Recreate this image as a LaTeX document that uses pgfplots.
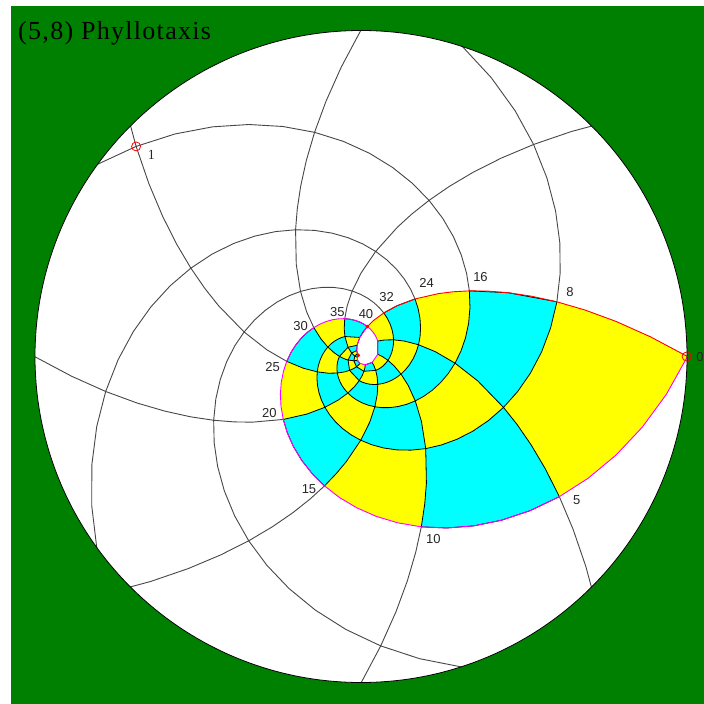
\documentclass[border=0pt]{standalone}
\usepackage{fontspec}
\setmainfont{Liberation Serif}
\newfontfamily\labfont{Liberation Sans}
\newfontfamily\titlefont[LetterSpace=5]{Liberation Serif}
\usepackage{pgfplots}
\pgfplotsset{compat=1.18}
\usepgfplotslibrary{polar}
\definecolor{bggreen}{RGB}{0,128,0}
\definecolor{cyel}{RGB}{255,255,0}
\definecolor{ccyan}{RGB}{0,255,255}
\definecolor{cmag}{RGB}{255,0,255}
\definecolor{cred}{RGB}{255,0,0}
\begin{document}
\begin{tikzpicture}[x=1pt,y=1pt]
\fill[white] (-361,-347.5) rectangle (343,356.5);
\fill[bggreen] (-350,-347.5) rectangle (343,350.5);
\fill[white] (0,0) circle[radius=326];
\begin{polaraxis}[at={(0,0)}, anchor=center, width=652pt, height=652pt, scale only axis,
  xmin=0, xmax=360, ymin=0, ymax=326, hide axis, clip=true, unbounded coords=jump]
% yellow: inside L0
\addplot[draw=none, fill=cyel] coordinates {
(0,326.5) (-7.05,307.75) (-14.1,290.07) (-21.15,273.41) (-28.2,257.70) (-35.25,242.90) (-42.3,228.95) (-49.35,215.80) (-56.4,203.40) (-63.45,191.72) (-70.5,180.71) (-77.55,170.33) (-84.6,160.54) (-91.65,151.32) (-98.7,142.63) (-105.75,134.44) (-112.8,126.71) (-119.85,119.44) (-126.9,112.58) (-133.95,106.11) (-141,100.01) (-148.05,94.27) (-155.1,88.86) (-162.15,83.75) (-169.2,78.94) (-176.25,74.41) (-183.3,70.13) (-190.35,66.10) (-197.4,62.30) (-204.45,58.73) (-211.5,55.36) (-218.55,52.17) (-225.6,49.18) (-232.65,46.36) (-239.7,43.69) (-246.75,41.18) (-253.8,38.81) (-260.85,36.59) (-267.9,34.49) (-274.95,32.50) (-282,30.64)
(70.2,38.81) (62.4,49.18) (54.6,62.30) (46.8,78.94) (39,100.01) (35.1,112.58) (31.2,126.71) (27.3,142.63) (23.4,160.54) (19.5,180.71) (15.6,203.40) (11.7,228.95) (7.8,257.70) (3.9,290.07) (0,326.5)};
% white teardrop inside L40
\addplot[draw=none, fill=white] coordinates {
(78,30.64) (70.95,28.88) (63.9,27.22) (56.85,25.65) (49.8,24.18) (42.75,22.79) (7.5,16.96) (-27.75,12.62) (-63,9.38) (-98.25,6.98) (-133.5,5.20) (-168.75,3.86) (-204,2.88) (140.4,4.62) (124.8,7.41) (109.2,11.89) (93.6,19.09) (78,30.64)};
% cyan checkerboard cells (even-odd of odd bands) with lattice lines
\addplot[draw=black, line width=0.8pt, fill=ccyan, even odd rule] coordinates {
(15.6,203.40) (8.55,191.72) (1.5,180.71) (-5.55,170.33) (-12.6,160.54) (-19.65,151.32) (-26.7,142.63) (-33.75,134.44) (-40.8,126.71) (-47.85,119.44) (-54.9,112.58) (-61.95,106.11) (-69,100.01) (-76.05,94.27) (-83.1,88.86) (-90.15,83.75) (-97.2,78.94) (-104.25,74.41) (-111.3,70.13) (-118.35,66.10) (-125.4,62.30) (-132.45,58.73) (-139.5,55.36) (-146.55,52.17) (-153.6,49.18) (-160.65,46.36) (-167.7,43.69) (-174.75,41.18) (-181.8,38.81) (-188.85,36.59) (-195.9,34.49) (-202.95,32.50) (-210,30.64) (-217.05,28.88) (-224.1,27.22) (-231.15,25.65) (-266.4,19.09) (-250.8,11.89) (-215.55,15.98) (-180.3,21.49) (-173.25,22.79) (-166.2,24.18) (-159.15,25.65) (-152.1,27.22) (-145.05,28.88) (-138,30.64) (-130.95,32.50) (-123.9,34.49) (-116.85,36.59) (-109.8,38.81) (-102.75,41.18) (-95.7,43.69) (-88.65,46.36) (-81.6,49.18) (-74.55,52.17) (-67.5,55.36) (-60.45,58.73) (-53.4,62.30) (-46.35,66.10) (-39.3,70.13) (-32.25,74.41) (-25.2,78.94) (-18.15,83.75) (-11.1,88.86) (-4.05,94.27) (3,100.01) (10.05,106.11) (17.1,112.58) (24.15,119.44) (31.2,126.71) (23.4,160.54) (15.6,203.40)
(nan,nan)
(46.8,78.94) (39.75,74.41) (32.7,70.13) (25.65,66.10) (18.6,62.30) (11.55,58.73) (4.5,55.36) (-2.55,52.17) (-9.6,49.18) (-16.65,46.36) (-23.7,43.69) (-30.75,41.18) (-37.8,38.81) (-44.85,36.59) (-51.9,34.49) (-58.95,32.50) (-66,30.64) (-73.05,28.88) (-80.1,27.22) (-87.15,25.65) (-94.2,24.18) (-129.45,17.99) (-164.7,13.39) (-199.95,9.96) (-235.2,7.41) (-219.6,4.62) (-184.35,6.20) (-149.1,8.34) (-113.85,11.21) (-78.6,15.06) (-43.35,20.25) (-36.3,21.49) (-29.25,22.79) (-22.2,24.18) (-15.15,25.65) (-8.1,27.22) (-1.05,28.88) (6,30.64) (13.05,32.50) (20.1,34.49) (27.15,36.59) (34.2,38.81) (41.25,41.18) (48.3,43.69) (55.35,46.36) (62.4,49.18) (54.6,62.30) (46.8,78.94)
(nan,nan)
(-35.25,242.90) (-31.35,215.80) (-27.45,191.72) (-23.55,170.33) (-19.65,151.32) (-11.85,119.44) (-4.05,94.27) (3.75,74.41) (11.55,58.73) (19.35,46.36) (27.15,36.59) (34.95,28.88) (42.75,22.79) (7.5,16.96) (-0.3,21.49) (-8.1,27.22) (-15.9,34.49) (-23.7,43.69) (-31.5,55.36) (-39.3,70.13) (-47.1,88.86) (-54.9,112.58) (-62.7,142.63) (-66.6,160.54) (-70.5,180.71) (-63.45,191.72) (-56.4,203.40) (-49.35,215.80) (-42.3,228.95) (-35.25,242.90)
(nan,nan)
(-105.75,134.44) (-101.85,119.44) (-97.95,106.11) (-90.15,83.75) (-82.35,66.10) (-74.55,52.17) (-66.75,41.18) (-58.95,32.50) (-51.15,25.65) (-43.35,20.25) (-35.55,15.98) (-27.75,12.62) (-63,9.38) (-70.8,11.89) (-78.6,15.06) (-86.4,19.09) (-94.2,24.18) (-102,30.64) (-109.8,38.81) (-117.6,49.18) (-125.4,62.30) (-133.2,78.94) (-141,100.01) (-133.95,106.11) (-126.9,112.58) (-119.85,119.44) (-112.8,126.71) (-105.75,134.44)
(nan,nan)
(-176.25,74.41) (-168.45,58.73) (-160.65,46.36) (-152.85,36.59) (-145.05,28.88) (-137.25,22.79) (-129.45,17.99) (-121.65,14.20) (-113.85,11.21) (-106.05,8.85) (-98.25,6.98) (-133.5,5.20) (-149.1,8.34) (-164.7,13.39) (-172.5,16.96) (-180.3,21.49) (-188.1,27.22) (-195.9,34.49) (-203.7,43.69) (-211.5,55.36) (-204.45,58.73) (-197.4,62.30) (-190.35,66.10) (-183.3,70.13) (-176.25,74.41)
(nan,nan)
(-246.75,41.18) (-238.95,32.50) (-231.15,25.65) (-215.55,15.98) (-199.95,9.96) (-184.35,6.20) (-168.75,3.86) (-204,2.88) (-219.6,4.62) (-235.2,7.41) (-250.8,11.89) (-266.4,19.09) (-274.2,24.18) (-282,30.64) (-274.95,32.50) (-267.9,34.49) (-260.85,36.59) (-253.8,38.81) (-246.75,41.18)
};
% outer parastichy lines (outside the coloured region)
\addplot[draw=black!72, line width=0.9pt] coordinates {
(86.1,367.51) (79.05,346.40) (72,326.5) (64.95,307.75) (57.9,290.07) (50.85,273.41) (43.8,257.70) (36.75,242.90) (29.7,228.95) (22.65,215.80) (15.6,203.40)
(nan,nan)
(158.1,367.51) (151.05,346.40) (144,326.5) (136.95,307.75) (129.9,290.07) (122.85,273.41) (115.8,257.70) (108.75,242.90) (101.7,228.95) (94.65,215.80) (87.6,203.40) (80.55,191.72) (73.5,180.71) (66.45,170.33) (59.4,160.54) (52.35,151.32) (45.3,142.63) (38.25,134.44) (31.2,126.71)
(nan,nan)
(230.1,367.51) (223.05,346.40) (216,326.5) (208.95,307.75) (201.9,290.07) (194.85,273.41) (187.8,257.70) (180.75,242.90) (173.7,228.95) (166.65,215.80) (159.6,203.40) (152.55,191.72) (145.5,180.71) (138.45,170.33) (131.4,160.54) (124.35,151.32) (117.3,142.63) (110.25,134.44) (103.2,126.71) (96.15,119.44) (89.1,112.58) (82.05,106.11) (75,100.01) (67.95,94.27) (60.9,88.86) (53.85,83.75) (46.8,78.94)
(nan,nan)
(302.1,367.51) (295.05,346.40) (288,326.5) (280.95,307.75) (273.9,290.07) (266.85,273.41) (259.8,257.70) (252.75,242.90) (245.7,228.95) (238.65,215.80) (231.6,203.40) (224.55,191.72) (217.5,180.71) (210.45,170.33) (203.4,160.54) (196.35,151.32) (189.3,142.63) (182.25,134.44) (175.2,126.71) (168.15,119.44) (161.1,112.58) (154.05,106.11) (147,100.01) (139.95,94.27) (132.9,88.86) (125.85,83.75) (118.8,78.94) (111.75,74.41) (104.7,70.13) (97.65,66.10) (90.6,62.30) (83.55,58.73) (76.5,55.36) (69.45,52.17) (62.4,49.18)
(nan,nan)
(-46.95,346.40) (-43.05,307.75) (-39.15,273.41) (-35.25,242.90)
(nan,nan)
(-93.9,367.51) (-90,326.5) (-86.1,290.07) (-82.2,257.70) (-78.3,228.95) (-74.4,203.40) (-70.5,180.71)
(nan,nan)
(-136.95,346.40) (-133.05,307.75) (-129.15,273.41) (-125.25,242.90) (-121.35,215.80) (-117.45,191.72) (-113.55,170.33) (-109.65,151.32) (-105.75,134.44)
(nan,nan)
(-183.9,367.51) (-180,326.5) (-176.1,290.07) (-172.2,257.70) (-168.3,228.95) (-164.4,203.40) (-160.5,180.71) (-156.6,160.54) (-152.7,142.63) (-148.8,126.71) (-141,100.01)
(nan,nan)
(-226.95,346.40) (-223.05,307.75) (-219.15,273.41) (-215.25,242.90) (-211.35,215.80) (-207.45,191.72) (-203.55,170.33) (-199.65,151.32) (-191.85,119.44) (-184.05,94.27) (-176.25,74.41)
(nan,nan)
(-273.9,367.51) (-270,326.5) (-266.1,290.07) (-262.2,257.70) (-258.3,228.95) (-254.4,203.40) (-250.5,180.71) (-246.6,160.54) (-242.7,142.63) (-234.9,112.58) (-227.1,88.86) (-219.3,70.13) (-211.5,55.36)
(nan,nan)
(-316.95,346.40) (-313.05,307.75) (-309.15,273.41) (-305.25,242.90) (-301.35,215.80) (-297.45,191.72) (-293.55,170.33) (-289.65,151.32) (-285.75,134.44) (-277.95,106.11) (-270.15,83.75) (-262.35,66.10) (-254.55,52.17) (-246.75,41.18)
};
% boundary 5-spiral 0..40 and 40..80 (magenta), 8-spiral 40..80 (magenta)
\addplot[draw=cmag, line width=0.9pt] coordinates {
(0,326.5) (-7.05,307.75) (-14.1,290.07) (-21.15,273.41) (-28.2,257.70) (-35.25,242.90) (-42.3,228.95) (-49.35,215.80) (-56.4,203.40) (-63.45,191.72) (-70.5,180.71) (-77.55,170.33) (-84.6,160.54) (-91.65,151.32) (-98.7,142.63) (-105.75,134.44) (-112.8,126.71) (-119.85,119.44) (-126.9,112.58) (-133.95,106.11) (-141,100.01) (-148.05,94.27) (-155.1,88.86) (-162.15,83.75) (-169.2,78.94) (-176.25,74.41) (-183.3,70.13) (-190.35,66.10) (-197.4,62.30) (-204.45,58.73) (-211.5,55.36) (-218.55,52.17) (-225.6,49.18) (-232.65,46.36) (-239.7,43.69) (-246.75,41.18) (-253.8,38.81) (-260.85,36.59) (-267.9,34.49) (-274.95,32.50) (-282,30.64)
(-289.05,28.88) (-296.1,27.22) (-303.15,25.65) (-310.2,24.18) (-317.25,22.79) (-352.5,16.96) (-387.75,12.62) (-423,9.38) (-458.25,6.98) (-493.5,5.20) (-528.75,3.86) (-564,2.88)
(nan,nan)
(78,30.64) (93.6,19.09) (109.2,11.89) (124.8,7.41) (140.4,4.62) (156,2.88)
};
% boundary 8-spiral 0..40 (red)
\addplot[draw=cred, line width=0.9pt] coordinates {
(0,326.5) (3.9,290.07) (7.8,257.70) (11.7,228.95) (15.6,203.40) (19.5,180.71) (23.4,160.54) (27.3,142.63) (31.2,126.71) (35.1,112.58) (39,100.01) (46.8,78.94) (54.6,62.30) (62.4,49.18) (70.2,38.81) (78,30.64)};
% marked primordia
\addplot[only marks, mark=o, mark size=4.5pt, draw=cred, line width=0.8pt] coordinates {(0,325.6) (136.95,307.75)};
\addplot[only marks, mark=*, mark size=1.6pt, cred] coordinates {(78,30.64) (156,2.88)};
\end{polaraxis}
\draw[black, line width=0.8pt] (0,0) circle[radius=326];
\begin{scope}[every node/.style={text=black!85, inner sep=0pt, font=\labfont\fontsize{13pt}{15pt}\selectfont}]
\node at (339,-0.5) {0};
\node[font=\rmfamily\fontsize{14pt}{16pt}\selectfont] at (-209.5,201.5) {1};
\node at (215.7,-143.5) {5};
\node at (209,64.8) {8};
\node at (72.3,-182.8) {10};
\node at (-52,-132.8) {15};
\node at (119.5,79.5) {16};
\node at (-91.7,-56.8) {20};
\node at (65.7,73.8) {24};
\node at (-88.3,-10.8) {25};
\node at (-60.3,30.5) {30};
\node at (25.7,59.2) {32};
\node at (-23.7,44.8) {35};
\node at (5,42.5) {40};
\end{scope}
\node[anchor=base west, inner sep=0pt, font=\titlefont\fontsize{26pt}{30pt}\selectfont] at (-343,317.2) {(5,8) Phyllotaxis};
\end{tikzpicture}
\end{document}
